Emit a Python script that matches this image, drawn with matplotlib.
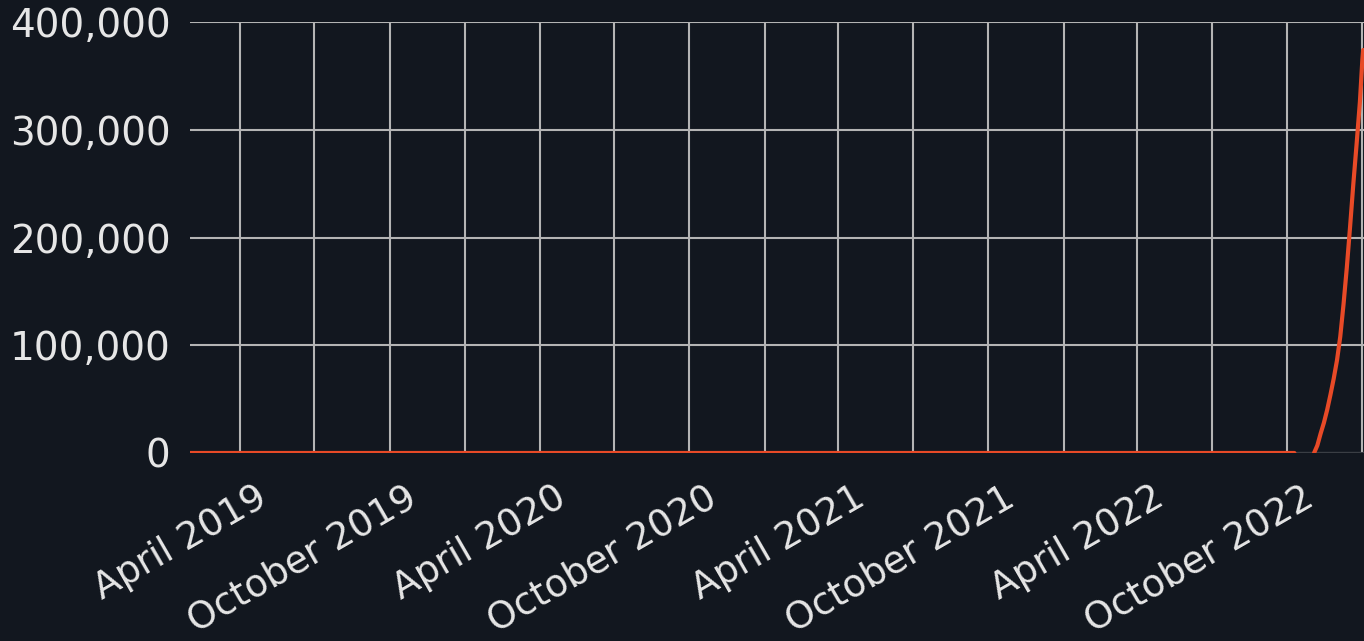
import numpy as np
import pandas as pd
import matplotlib
matplotlib.use('Agg')
import matplotlib.pyplot as plt
import matplotlib.dates as mdates
from matplotlib.ticker import FuncFormatter
from matplotlib.transforms import ScaledTranslation

# values
dates = ['2019-01-30', '2019-07-01', '2020-01-01', '2020-07-01', '2021-01-01',
         '2021-07-01', '2022-01-01', '2022-07-01', '2022-10-10', '2022-10-20',
         '2022-11-03', '2022-11-07', '2022-11-11', '2022-11-15', '2022-11-19',
         '2022-11-23', '2022-11-27', '2022-12-01', '2022-12-05', '2022-12-09',
         '2022-12-13', '2022-12-17', '2022-12-21', '2022-12-25', '2022-12-29',
         '2023-01-01', '2023-01-02']
values = [0, 0, 0, 0, 0,
          0, 0, 0, 0, np.nan,
          0, 7000, 18000, 28000, 40000,
          54000, 69000, 86000, 108000, 138000,
          172000, 210000, 250000, 287000, 326000,
          365000, 374000]

y_ticks = [0, 100000, 200000, 300000, 400000]
x_start, x_end = '2019-01-30', '2023-01-03'

bg = '#12171f'
grid_col = '#b4b4b4'
line_col = '#e84a27'
text_col = '#e6e6e6'

x = pd.to_datetime(dates)

fig = plt.figure(figsize=(13.64, 6.41), dpi=100, facecolor=bg)
ax = fig.add_axes([190 / 1364, 188 / 641, 1174 / 1364, 431 / 641])
ax.set_facecolor(bg)

ax.axhline(0, color='#3a3e44', lw=1.5, zorder=1)
ax.plot(x, values, color=line_col, lw=3.0, solid_capstyle='round', zorder=3)

ax.set_xlim(pd.Timestamp(x_start), pd.Timestamp(x_end))
ax.set_ylim(0, 400000)
ax.set_yticks(y_ticks)
ax.yaxis.set_major_formatter(FuncFormatter(lambda v, p: f'{int(v):,}'))

ax.xaxis.set_major_locator(mdates.MonthLocator(bymonth=[4, 10]))
ax.xaxis.set_minor_locator(mdates.MonthLocator(bymonth=[1, 7]))
ax.xaxis.set_major_formatter(mdates.DateFormatter('%B %Y'))

ax.grid(True, which='both', axis='x', color=grid_col, lw=1.5, zorder=0)
ax.grid(True, which='major', axis='y', color=grid_col, lw=1.5, zorder=0)
ax.set_axisbelow(True)

for s in ax.spines.values():
    s.set_visible(False)

ax.tick_params(axis='both', which='both', length=0, colors=text_col)
ax.tick_params(axis='y', pad=14, labelsize=28)
ax.tick_params(axis='x', pad=4, labelsize=27)

offset = ScaledTranslation(0.33, -0.21, fig.dpi_scale_trans)
for lab in ax.get_xticklabels():
    lab.set_rotation(30)
    lab.set_ha('right')
    lab.set_transform(lab.get_transform() + offset)

fig.savefig('out.png', dpi=100, facecolor=bg)
